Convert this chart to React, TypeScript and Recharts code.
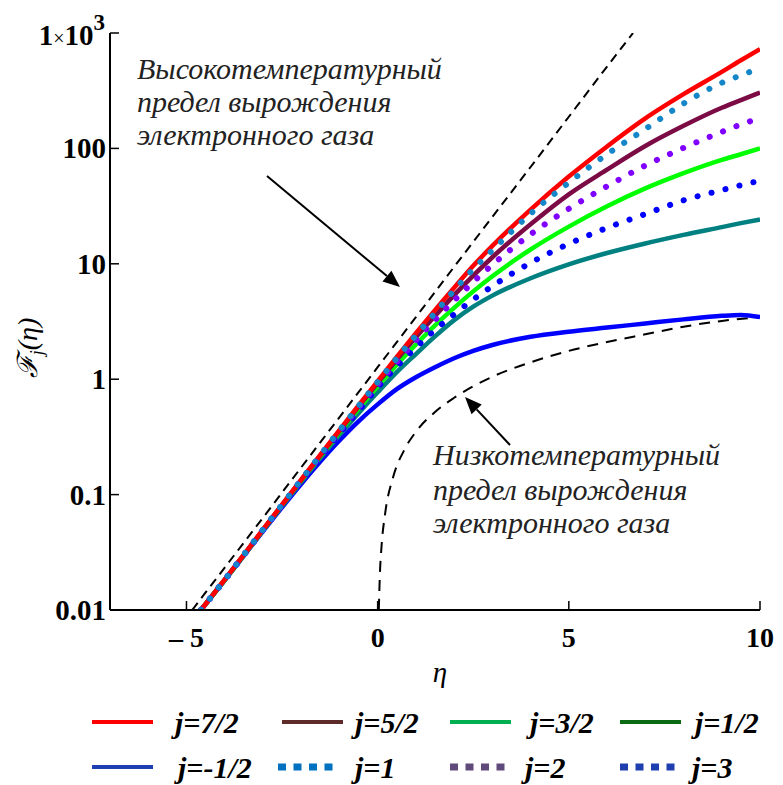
import React from "react";
import { LineChart, Line, XAxis, YAxis } from "recharts";

// eta grid shared by the eight F_j curves
const eta = [-4.62, -4, -3, -2, -1, -0.5, 0, 0.5, 1, 1.5, 2, 2.5, 3, 4, 5, 6, 7, 8, 9, 9.5, 10];
const fj72 = [0.01, 0.0183, 0.0497, 0.1346, 0.362, 0.592, 0.96, 1.56, 2.5, 3.97, 6.2, 9.6, 14.3, 29.5, 57, 104, 182, 295, 460, 580, 725];
const fj3 = [0.01, 0.0183, 0.0497, 0.1342, 0.36, 0.586, 0.947, 1.52, 2.4, 3.76, 5.9, 9.0, 13.1, 27.2, 50.5, 89, 147, 245, 370, 430, 495];
const fj52 = [0.01, 0.0183, 0.0496, 0.1338, 0.357, 0.578, 0.928, 1.48, 2.31, 3.53, 5.35, 7.9, 11.4, 22, 40, 65.5, 105, 157, 225, 262, 305];
const fj2 = [0.01, 0.0183, 0.0495, 0.1331, 0.3526, 0.567, 0.9, 1.41, 2.16, 3.25, 4.8, 6.95, 9.8, 18, 30, 47, 71, 101, 139, 161, 184];
const fj32 = [0.01, 0.0182, 0.0493, 0.1323, 0.3467, 0.5526, 0.867, 1.335, 2.0, 2.93, 4.15, 5.77, 7.8, 13.3, 21, 31.5, 45, 61, 79.5, 89, 100];
const fj1 = [0.01, 0.0182, 0.0492, 0.131, 0.3386, 0.533, 0.85, 1.29, 1.88, 2.68, 3.65, 4.9, 6.4, 10.2, 14.9, 20.5, 27, 35.5, 43.5, 48, 52.5];
const fj12 = [0.01, 0.0182, 0.0489, 0.1293, 0.3278, 0.5075, 0.77, 1.15, 1.65, 2.35, 3.25, 4.25, 5.3, 7.5, 9.9, 12.4, 15, 17.8, 20.8, 22.5, 24.2];
const fjm12 = [0.01, 0.0181, 0.0481, 0.1237, 0.294, 0.4315, 0.605, 0.82, 1.04, 1.27, 1.52, 1.76, 1.98, 2.33, 2.58, 2.8, 3.04, 3.3, 3.54, 3.6, 3.45];

// high-temperature (non-degenerate) limit
const etaHigh = [-4.85, -4, -3, -2, -1, 0, 1, 2, 3, 4, 5, 6, 6.68];
const highLimit = [0.01, 0.0233, 0.063, 0.172, 0.467, 1.27, 3.45, 9.4, 25.5, 69, 188, 512, 1000];

// low-temperature (degenerate) limit
const etaLow = [0.03, 0.06, 0.1, 0.2, 0.4, 0.7, 1, 1.5, 2, 3, 4, 5, 6, 7, 8, 9, 10];
const lowLimit = [0.01, 0.021, 0.035, 0.07, 0.14, 0.245, 0.35, 0.52, 0.69, 1.05, 1.4, 1.76, 2.1, 2.45, 2.85, 3.2, 3.45];

const xTicks = [-5, 0, 5, 10];
const yTicks = [0.01, 0.1, 1, 10, 100, 1000];

const FONT = "Liberation Serif, Times New Roman, DejaVu Serif, serif";

const toPoints = (xs: number[], ys: number[]) => xs.map((x, i) => ({ x, y: ys[i] }));

const solids = [
  { name: "j=-1/2", values: fjm12, color: "#0000ff" },
  { name: "j=1/2", values: fj12, color: "#008080" },
  { name: "j=3/2", values: fj32, color: "#00ff00" },
  { name: "j=5/2", values: fj52, color: "#7b0a45" },
  { name: "j=7/2", values: fj72, color: "#ff0000" },
];
const dotted = [
  { name: "j=1", values: fj1, color: "#0000ff" },
  { name: "j=2", values: fj2, color: "#8000ff" },
  { name: "j=3", values: fj3, color: "#1586c8" },
];

const legendRows = [
  [
    { label: "j=7/2", color: "#ff0000", dots: false, x: 84, tx: 167 },
    { label: "j=5/2", color: "#5e2b2b", dots: false, x: 274, tx: 347 },
    { label: "j=3/2", color: "#00b050", dots: false, x: 442, tx: 522 },
    { label: "j=1/2", color: "#0a6b14", dots: false, x: 612, tx: 687 },
  ],
  [
    { label: "j=-1/2", color: "#1f3fb0", dots: false, x: 84, tx: 170 },
    { label: "j=1", color: "#0070c0", dots: true, x: 270, tx: 347 },
    { label: "j=2", color: "#604a7b", dots: true, x: 442, tx: 517 },
    { label: "j=3", color: "#1f3fb0", dots: true, x: 612, tx: 684 },
  ],
];

const BottomTick = (props: any) => {
  const { x, y, payload } = props;
  const v = payload.value;
  const txt = v < 0 ? "\u2013 " + Math.abs(v) : String(v);
  return (
    <g>
      <line x1={x} y1={y} x2={x} y2={y - 9} stroke="#000" strokeWidth={1.5} />
      <text x={x} y={y + 37} textAnchor="middle" fontFamily={FONT} fontWeight="bold" fontSize={28} fill="#000">
        {txt}
      </text>
    </g>
  );
};

const TopTick = (props: any) => {
  const { x, y } = props;
  return <line x1={x} y1={y} x2={x} y2={y + 9} stroke="#000" strokeWidth={1.5} />;
};

const LeftTick = (props: any) => {
  const { x, y, payload } = props;
  const v = payload.value;
  return (
    <g>
      <line x1={x} y1={y} x2={x + 9} y2={y} stroke="#000" strokeWidth={1.5} />
      {v === 1000 ? (
        <text x={x - 5} y={y + 12} textAnchor="end" fontFamily={FONT} fontWeight="bold" fontSize={29} fill="#000">
          1<tspan fontWeight="normal" fontSize={20}>×</tspan>10
          <tspan dy={-15} fontSize={23}>3</tspan>
        </text>
      ) : (
        <text x={x - 4} y={y + 10} textAnchor="end" fontFamily={FONT} fontWeight="bold" fontSize={29} fill="#000">
          {String(v)}
        </text>
      )}
    </g>
  );
};

const RightTick = (props: any) => {
  const { x, y } = props;
  return <line x1={x} y1={y} x2={x - 9} y2={y} stroke="#000" strokeWidth={1.5} />;
};

const Arrow = ({ x1, y1, x2, y2 }: { x1: number; y1: number; x2: number; y2: number }) => {
  const a = Math.atan2(y2 - y1, x2 - x1);
  const len = 17;
  const half = 7;
  const bx = x2 - len * Math.cos(a);
  const by = y2 - len * Math.sin(a);
  const px = -Math.sin(a) * half;
  const py = Math.cos(a) * half;
  return (
    <g>
      <line x1={x1} y1={y1} x2={bx} y2={by} stroke="#000" strokeWidth={2} />
      <polygon points={`${x2},${y2} ${bx + px},${by + py} ${bx - px},${by - py}`} fill="#000" />
    </g>
  );
};

const App = () => {
  return (
    <div style={{ position: "relative", width: 767, height: 777, fontFamily: FONT }}>
      <LineChart width={767} height={700} margin={{ top: 25, right: 15, left: 0, bottom: 0 }}>
        <XAxis
          dataKey="x"
          type="number"
          domain={[-7, 10]}
          ticks={xTicks}
          height={98}
          tickSize={0}
          tickMargin={0}
          tick={BottomTick}
          axisLine={{ stroke: "#000", strokeWidth: 2 }}
          allowDataOverflow
          label={{
            content: () => (
              <text x={432} y={674} textAnchor="middle" fontFamily={FONT} fontStyle="italic" fontSize={29} fill="#000">
                η
              </text>
            ),
          }}
        />
        <XAxis
          xAxisId="top"
          orientation="top"
          dataKey="x"
          type="number"
          domain={[-7, 10]}
          ticks={[-5, 0, 5]}
          height={0}
          tickSize={0}
          tickMargin={0}
          tick={TopTick}
          axisLine={{ stroke: "#000", strokeWidth: 2 }}
          allowDataOverflow
        />
        <YAxis
          type="number"
          scale="log"
          domain={[0.01, 1000]}
          ticks={yTicks}
          width={102}
          tickSize={0}
          tickMargin={0}
          tick={LeftTick}
          axisLine={{ stroke: "#000", strokeWidth: 2 }}
          allowDataOverflow
          label={{
            content: () => (
              <text
                x={29}
                y={340}
                transform="rotate(-90 29 340)"
                textAnchor="middle"
                fontFamily={FONT}
                fontStyle="italic"
                fontSize={28}
                fill="#000"
              >
                ℱ<tspan fontSize={18} dy={6}>j</tspan>
                <tspan dy={-6}>(η)</tspan>
              </text>
            ),
          }}
        />
        <YAxis
          yAxisId="right"
          orientation="right"
          type="number"
          scale="log"
          domain={[0.01, 1000]}
          ticks={yTicks}
          width={0}
          tickSize={0}
          tickMargin={0}
          tick={RightTick}
          axisLine={{ stroke: "#000", strokeWidth: 2 }}
          allowDataOverflow
        />
        <Line
          data={toPoints(etaHigh, highLimit)}
          dataKey="y"
          type="monotone"
          stroke="#000"
          strokeWidth={2}
          strokeDasharray="9 6"
          dot={false}
          isAnimationActive={false}
        />
        <Line
          data={toPoints(etaLow, lowLimit)}
          dataKey="y"
          type="monotone"
          stroke="#000"
          strokeWidth={2}
          strokeDasharray="11 8"
          dot={false}
          isAnimationActive={false}
        />
        {solids.map((s) => (
          <Line
            key={s.name}
            data={toPoints(eta, s.values)}
            dataKey="y"
            name={s.name}
            type="monotone"
            stroke={s.color}
            strokeWidth={4.5}
            dot={false}
            isAnimationActive={false}
          />
        ))}
        {dotted.map((s) => (
          <Line
            key={s.name}
            data={toPoints(eta, s.values)}
            dataKey="y"
            name={s.name}
            type="monotone"
            stroke={s.color}
            strokeWidth={6}
            strokeDasharray="0.1 14.3"
            strokeLinecap="round"
            dot={false}
            isAnimationActive={false}
          />
        ))}
      </LineChart>

      <svg
        width={767}
        height={777}
        style={{ position: "absolute", left: 0, top: 0, pointerEvents: "none" }}
      >
        <g fontFamily={FONT} fontStyle="italic" fontSize={30} fill="#222">
          <text x={129} y={71}>Высокотемпературный</text>
          <text x={129} y={104}>предел вырождения</text>
          <text x={129} y={137}>электронного газа</text>
          <text x={425} y={457}>Низкотемпературный</text>
          <text x={425} y={492}>предел вырождения</text>
          <text x={425} y={525}>электронного газа</text>
        </g>
        <Arrow x1={259} y1={168} x2={392} y2={279} />
        <Arrow x1={502} y1={437} x2={457} y2={389} />

        {legendRows.map((row, r) =>
          row.map((it) => {
            const cy = r === 0 ? 714 : 759;
            return (
              <g key={it.label}>
                <line
                  x1={it.x}
                  y1={cy}
                  x2={it.x + 61}
                  y2={cy}
                  stroke={it.color}
                  strokeWidth={it.dots ? 7 : 4}
                  strokeDasharray={it.dots ? "8 7.5" : undefined}
                />
                <text
                  x={it.tx}
                  y={cy + 11}
                  fontFamily={FONT}
                  fontStyle="italic"
                  fontWeight="bold"
                  fontSize={30}
                  fill="#000"
                >
                  {it.label}
                </text>
              </g>
            );
          })
        )}
      </svg>
    </div>
  );
};

export default App;
